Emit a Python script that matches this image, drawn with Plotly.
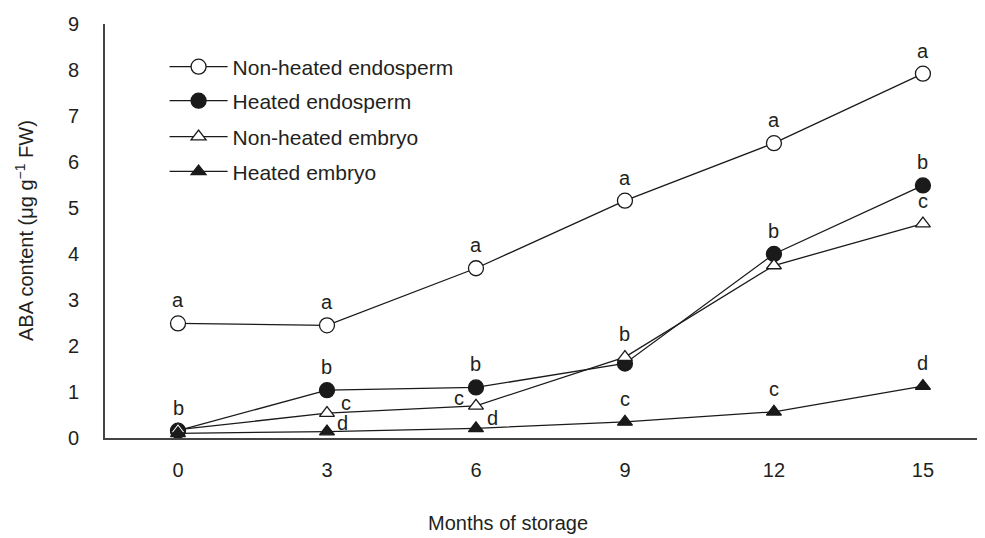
import plotly.graph_objects as go

months = [0, 3, 6, 9, 12, 15]
x_ticks = [0, 3, 6, 9, 12, 15]
y_ticks = [0, 1, 2, 3, 4, 5, 6, 7, 8, 9]

nh_endosperm = [2.49, 2.45, 3.69, 5.16, 6.41, 7.92]
h_endosperm = [0.16, 1.04, 1.10, 1.62, 4.00, 5.49]
nh_embryo = [0.18, 0.54, 0.70, 1.76, 3.75, 4.66]
h_embryo = [0.10, 0.14, 0.21, 0.35, 0.57, 1.13]

nh_endosperm_letters = ["a", "a", "a", "a", "a", "a"]
h_endosperm_letters = ["b", "b", "b", "", "b", "b"]
nh_embryo_letters = ["", "c", "c", "b", "", "c"]
h_embryo_letters = ["", "d", "d", "c", "c", "d"]

names = ["Non-heated endosperm", "Heated endosperm", "Non-heated embryo", "Heated embryo"]

FONT = "Liberation Sans, Arial, sans-serif"
TXT = "#231f20"
LINE = "#1a1a1a"

fig = go.Figure()

styles = [
    dict(symbol="circle", size=15, color="white"),
    dict(symbol="circle", size=15, color=LINE),
    dict(symbol="triangle-up", size=13, color="white"),
    dict(symbol="triangle-up", size=13, color=LINE),
]
series = [nh_endosperm, h_endosperm, nh_embryo, h_embryo]
legend_ids = ["legend", "legend2", "legend3", "legend4"]
legend_y = [0.896, 0.814, 0.727, 0.643]

for name, vals, st, lid in zip(names, series, styles, legend_ids):
    fig.add_trace(go.Scatter(
        x=months, y=vals, name=name, mode="lines+markers", legend=lid,
        line=dict(color=LINE, width=1.3),
        marker=dict(symbol=st["symbol"], size=st["size"], color=st["color"],
                    line=dict(color=LINE, width=1.3)),
        cliponaxis=False,
    ))

# letter annotations (offsets in pixels)
special = {(2, 1): (19, 10), (2, 2): (-17, 8), (3, 1): (16, 9), (3, 2): (17, 10)}
letters = [nh_endosperm_letters, h_endosperm_letters, nh_embryo_letters, h_embryo_letters]
for si, (vals, lets) in enumerate(zip(series, letters)):
    for i, (m, v, l) in enumerate(zip(months, vals, lets)):
        if not l:
            continue
        dx, dy = special.get((si, i), (0, 23))
        fig.add_annotation(x=m, y=v, text=l, showarrow=False, xshift=dx, yshift=dy,
                           xanchor="center", yanchor="middle",
                           font=dict(family=FONT, size=20, color=TXT))

fig.add_annotation(xref="paper", yref="paper", x=-0.092, y=0.5,
                   text="ABA content (μg g<sup>−1</sup> FW)", textangle=-90,
                   showarrow=False, xanchor="center", yanchor="middle",
                   font=dict(family=FONT, size=20, color=TXT))
fig.add_annotation(xref="paper", yref="paper", x=0.458, y=-0.205,
                   text="Months of storage", showarrow=False,
                   xanchor="center", yanchor="middle",
                   font=dict(family=FONT, size=20, color=TXT))

legend_common = dict(x=0.0677, xanchor="left", yanchor="middle",
                     font=dict(family=FONT, size=21, color=TXT),
                     bgcolor="rgba(0,0,0,0)", itemwidth=58)

layout_legends = {lid: dict(legend_common, y=ly) for lid, ly in zip(legend_ids, legend_y)}

fig.update_layout(
    width=977, height=530,
    margin=dict(l=97, r=0, t=16, b=100),
    paper_bgcolor="white", plot_bgcolor="white",
    font=dict(family=FONT, size=20, color=TXT),
    showlegend=True,
    xaxis=dict(range=[-1.47, 16.25], tickvals=x_ticks, ticks="", showgrid=False,
               zeroline=False, showline=True, linecolor="#444", linewidth=2,
               ticklabelstandoff=13, tickfont=dict(family=FONT, size=20, color=TXT)),
    yaxis=dict(range=[0, 9], tickvals=y_ticks, ticks="", showgrid=False,
               zeroline=False, showline=True, linecolor="#444", linewidth=2,
               ticklabelstandoff=20, tickfont=dict(family=FONT, size=20, color=TXT)),
    **layout_legends,
)

fig.write_html("out.html")
